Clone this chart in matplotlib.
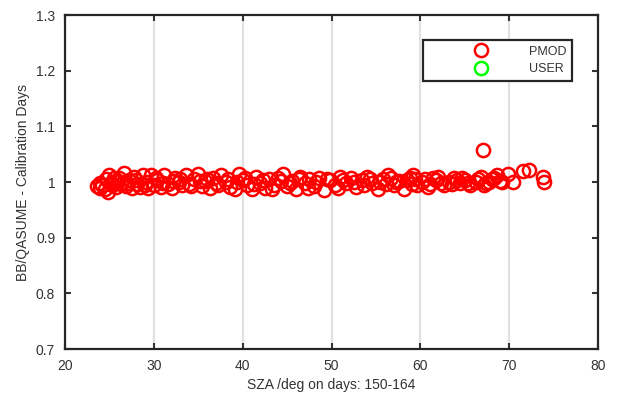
import matplotlib
matplotlib.use('Agg')
import matplotlib.pyplot as plt

plt.rcParams['font.family'] = ['Liberation Sans', 'DejaVu Sans']

# SZA (graus) e razao BB/QASUME
sza = [23.6, 23.9, 24.2, 24.5, 24.8, 25.0, 25.2, 25.5, 25.8, 26.0,
       26.3, 26.6, 26.9, 27.2, 27.5, 27.8, 28.1, 28.4, 28.8, 29.1,
       29.4, 29.7, 30.0, 30.4, 30.8, 31.2, 31.6, 32.0, 32.4, 32.8,
       33.2, 33.6, 34.0, 34.5, 35.0, 35.4, 35.8, 36.3, 36.7, 37.2,
       37.6, 38.1, 38.6, 39.1, 39.6, 40.0, 40.5, 41.0, 41.5, 42.0,
       42.5, 43.0, 43.5, 44.0, 44.5, 45.0, 45.5, 46.0, 46.5, 47.0,
       47.5, 48.0, 48.6, 49.2, 49.8, 50.4, 51.0, 51.6, 52.2, 52.8,
       53.4, 54.0, 54.6, 55.2, 55.8, 56.4, 57.0, 57.6, 58.2, 58.8,
       59.2, 59.6, 60.2, 60.8, 61.4, 62.0, 62.6, 63.2, 63.8, 64.4,
       65.0, 65.6, 66.2, 66.8, 67.0, 67.4, 68.0, 68.6, 69.2, 69.8,
       70.4, 71.5, 72.2, 73.8, 73.9,
       24.0, 24.6, 25.3, 26.1, 27.0, 28.0, 29.0, 30.2, 31.0, 32.2,
       33.0, 34.2, 35.2, 36.0, 37.0, 38.3, 39.4, 40.3, 41.3, 42.3,
       43.3, 44.3, 45.3, 46.3, 47.3, 48.3, 49.5, 50.7, 51.3, 52.5,
       53.7, 54.3, 55.5, 56.1, 56.7, 57.3, 58.5, 59.0, 59.4, 60.5,
       61.1, 61.7, 62.3, 63.5, 64.1, 64.7, 65.3, 66.5, 67.1, 67.7,
       68.3, 68.9]
razao = [0.993, 0.990, 0.995, 0.988, 0.982, 1.013, 0.998, 1.008, 0.992, 1.002,
         0.996, 1.016, 0.993, 1.004, 0.990, 1.010, 0.997, 0.992, 1.013, 1.000,
         0.989, 1.012, 0.995, 1.003, 0.992, 1.012, 0.997, 0.990, 1.008, 1.000,
         0.994, 1.013, 0.997, 1.005, 1.015, 0.993, 1.002, 0.989, 1.008, 0.995,
         1.012, 1.000, 0.992, 0.987, 1.015, 1.003, 0.995, 0.988, 1.010, 0.998,
         0.990, 1.005, 0.995, 1.008, 1.015, 0.993, 1.002, 0.988, 1.010, 0.998,
         1.005, 0.993, 1.008, 0.985, 1.003, 0.995, 1.010, 0.998, 1.008, 0.992,
         1.003, 1.010, 0.998, 0.987, 1.005, 1.013, 0.995, 1.002, 0.988, 1.008,
         1.012, 0.995, 1.000, 0.992, 1.007, 1.010, 0.995, 1.000, 1.008, 0.998,
         1.003, 0.995, 1.000, 1.010, 1.057, 0.998, 1.005, 1.012, 1.000, 1.015,
         1.000, 1.020, 1.022, 1.010, 1.000,
         0.998, 1.005, 0.994, 1.008, 0.998, 1.003, 0.994, 1.008, 0.998, 1.002,
         1.006, 0.993, 1.002, 1.005, 0.998, 1.006, 1.000, 1.008, 0.996, 1.004,
         0.988, 1.002, 0.999, 1.006, 0.990, 1.000, 1.006, 0.989, 1.004, 1.000,
         0.994, 1.006, 1.000, 0.996, 1.008, 1.000, 1.003, 0.996, 1.006, 1.005,
         0.996, 1.004, 0.998, 0.996, 1.004, 1.008, 0.998, 1.005, 0.995, 1.000,
         1.008, 1.002]

x_ticks = [20, 30, 40, 50, 60, 70, 80]
y_ticks = [0.7, 0.8, 0.9, 1.0, 1.1, 1.2, 1.3]
y_labels = ['0.7', '0.8', '0.9', '1', '1.1', '1.2', '1.3']

fig = plt.figure(figsize=(6.18, 3.98), dpi=100)
ax = fig.add_axes([0.105, 0.123, 0.863, 0.839])

ax.plot(sza, razao, 'o', mfc='none', mec='#ff0000', ms=9.5, mew=1.8,
        linestyle='none', label='PMOD')
ax.plot([], [], 'o', mfc='none', mec='#00ff00', ms=9.5, mew=1.8,
        linestyle='none', label='USER')

ax.set_xlim(20, 80)
ax.set_ylim(0.7, 1.3)
ax.set_xticks(x_ticks)
ax.set_yticks(y_ticks)
ax.set_yticklabels(y_labels)
ax.xaxis.grid(True, color='#e0e0e0', linewidth=1.5)
ax.set_axisbelow(True)
ax.tick_params(direction='in', length=4, width=1.5, top=True, right=True,
               labelsize=10, colors='#333333', pad=7)
for s in ax.spines.values():
    s.set_linewidth(1.6)
    s.set_color('#262626')

ax.set_xlabel('SZA /deg on days: 150-164', fontsize=10, color='#333333')
ax.set_ylabel('BB/QASUME - Calibration Days', fontsize=10, color='#333333')

leg = ax.legend(loc='upper left', bbox_to_anchor=(0.672, 0.925),
                borderaxespad=0, fontsize=9, handlelength=8.3,
                handletextpad=-0.3, fancybox=False, framealpha=1,
                labelspacing=0.45, borderpad=0.45)
leg.get_frame().set_edgecolor('#262626')
leg.get_frame().set_linewidth(1.6)
for t in leg.get_texts():
    t.set_color('#333333')

fig.savefig('out.png', dpi=100)
